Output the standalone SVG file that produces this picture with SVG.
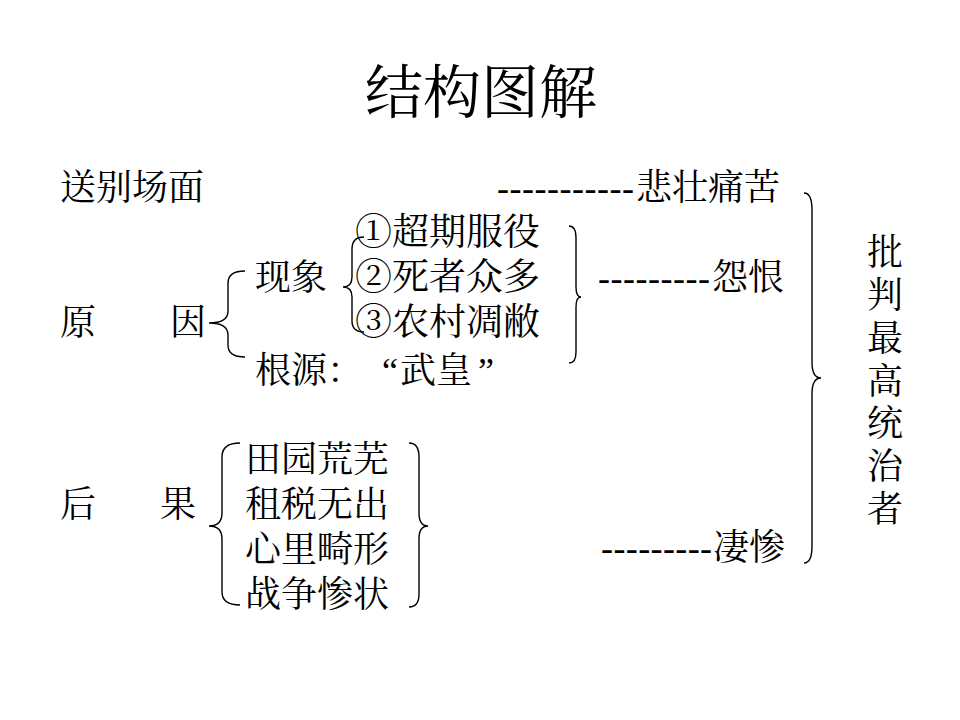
<svg xmlns="http://www.w3.org/2000/svg" width="960" height="720" viewBox="0 0 960 720">
<style>
text{font-family:"Liberation Serif","Noto Serif CJK SC","Noto Sans CJK SC",serif;fill:#000;font-size:36px}
.title{font-size:58px}
.n{font-size:37px}
.br{fill:none;stroke:#000;stroke-width:1.4}
</style>
<rect width="960" height="720" fill="#fff"/>
<g id="title"><text class="title" x="481" y="113" text-anchor="middle">结构图解</text></g>
<g id="farewell"><text x="60" y="200">送别场面</text></g>
<g id="beizhuang"><text x="497" y="200" textLength="137" lengthAdjust="spacing">-----------</text><text x="636" y="200">悲壮痛苦</text></g>
<g id="cause"><text x="60" y="335">原</text><text x="170" y="335">因</text></g>
<g id="phenomenon"><text x="255" y="290">现象</text></g>
<g id="p1"><text class="n" x="355" y="245">①</text><text class="n" x="392" y="245">超期服役</text></g>
<g id="p2"><text class="n" x="355" y="290">②</text><text class="n" x="392" y="290">死者众多</text></g>
<g id="p3"><text class="n" x="355" y="335">③</text><text class="n" x="392" y="335">农村凋敝</text></g>
<g id="root"><text x="255" y="383">根源：</text><text x="382" y="383">“</text><text x="400" y="383">武皇</text><text x="478" y="383">”</text></g>
<g id="yuanhen"><text x="598" y="290" textLength="112" lengthAdjust="spacing">---------</text><text x="712" y="290">怨恨</text></g>
<g id="effect"><text x="60" y="517">后</text><text x="160" y="517">果</text></g>
<g id="e1"><text x="245" y="472">田园荒芜</text></g>
<g id="e2"><text x="245" y="517">租税无出</text></g>
<g id="e3"><text x="245" y="562">心里畸形</text></g>
<g id="e4"><text x="245" y="607">战争惨状</text></g>
<g id="qican"><text x="601" y="560" textLength="111" lengthAdjust="spacing">---------</text><text x="713" y="560">凄惨</text></g>
<g id="critique" text-anchor="middle">
<text x="885" y="265">批</text><text x="885" y="308">判</text><text x="885" y="351">最</text><text x="885" y="394">高</text><text x="885" y="436">统</text><text x="885" y="479">治</text><text x="885" y="522">者</text>
</g>
<g id="connectors">
<path class="br" d="M245,271 Q228,271 228,283 L228,311 Q228,323 209,323 Q228,323 228,335 L228,345 Q228,357 245,357"/>
<path class="br" d="M364,237 Q352,237 352,249 L352,277 Q352,287 343,287 Q352,287 352,297 L352,321 Q352,332 364,332"/>
<path class="br" d="M569,226 Q576,226 576,238 L576,287 Q576,297 581,297 Q576,297 576,307 L576,352 Q576,363 569,363"/>
<path class="br" d="M804,193 Q812,193 812,210 L812,362 Q812,378 821,378 Q812,378 812,394 L812,546 Q812,563 804,563"/>
<path class="br" d="M240,443 Q222,443 222,457 L222,513 Q222,526 209,526 Q222,526 222,539 L222,592 Q222,605 240,605"/>
<path class="br" d="M409,443 Q419,443 419,457 L419,513 Q419,526 428,526 Q419,526 419,539 L419,594 Q419,607 409,607"/>
</g>
</svg>
